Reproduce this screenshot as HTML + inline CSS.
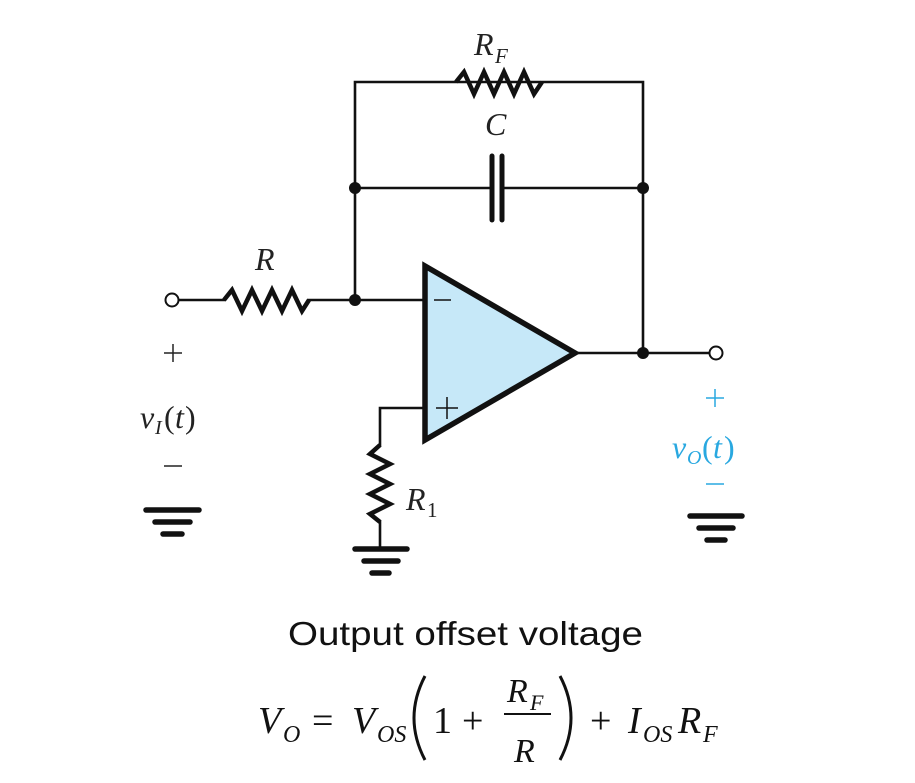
<!DOCTYPE html>
<html><head><meta charset="utf-8"><style>html,body{margin:0;padding:0;background:#fff}svg{display:block}</style></head>
<body>
<svg width="915" height="783" viewBox="0 0 915 783" xmlns="http://www.w3.org/2000/svg">
<g fill="none" stroke="#111" stroke-width="2.6">
<polyline points="355,300 355,82 458,82 643,82 643,353"/>
<line x1="355" y1="188" x2="490" y2="188"/>
<line x1="503" y1="188" x2="643" y2="188"/>
<polyline points="178,300 226,300"/><polyline points="307,300 425,300"/>
<line x1="577" y1="353" x2="710" y2="353"/>
<polyline points="425,408 380,408 380,447"/><polyline points="380,520 380,548"/>
</g>
<g fill="none" stroke="#111" stroke-width="4.5" stroke-linejoin="miter">
<polyline points="456,82 464,72 474,94 484,72 494,94 504,72 514,94 524,72 534,94 542,82"/>
<polyline points="224,300 232,290 242,311 252,290 262,311 272,290 282,311 292,290 302,311 309,300"/>
<polyline points="380,445 370,454 390,464 370,474 390,484 370,494 390,504 370,514 380,522"/>
</g>
<g stroke="#111" stroke-width="5" stroke-linecap="round">
<line x1="492" y1="156" x2="492" y2="220"/><line x1="502" y1="156" x2="502" y2="220"/>
</g>
<polygon points="425,266 425,440 575,353" fill="#c6e8f8" stroke="#111" stroke-width="5.5" stroke-linejoin="miter"/>
<g stroke="#111" stroke-width="1.5"><line x1="434" y1="300" x2="451" y2="300"/><line x1="436" y1="408" x2="458" y2="408"/><line x1="447" y1="397" x2="447" y2="419"/></g>
<g fill="#111"><circle cx="355" cy="188" r="6"/><circle cx="643" cy="188" r="6"/><circle cx="355" cy="300" r="6"/><circle cx="643" cy="353" r="6"/></g>
<g fill="#fff" stroke="#111" stroke-width="2"><circle cx="172" cy="300" r="6.5"/><circle cx="716" cy="353" r="6.5"/></g>
<g stroke="#111" stroke-width="5.5" stroke-linecap="round">
<line x1="146" y1="510" x2="199" y2="510"/><line x1="155" y1="522" x2="190" y2="522"/><line x1="163" y1="534" x2="182" y2="534"/>
<line x1="690" y1="516" x2="742" y2="516"/><line x1="699" y1="528" x2="733" y2="528"/><line x1="707" y1="540" x2="725" y2="540"/>
<line x1="355" y1="549" x2="407" y2="549"/><line x1="364" y1="561" x2="398" y2="561"/><line x1="372" y1="573" x2="389" y2="573"/>
</g>
<g font-family="Liberation Serif, serif" font-style="italic" fill="#222">
<text x="474" y="55" font-size="32">R</text><text x="495" y="63" font-size="21">F</text>
<text x="485" y="135" font-size="32">C</text>
<text x="255" y="270" font-size="32">R</text>
<text x="406" y="510" font-size="32">R</text><text x="427" y="517" font-size="21" font-style="normal">1</text>
<text x="140" y="428" font-size="32">v</text><text x="155" y="434" font-size="20">I</text><text x="164" y="428" font-size="32" font-style="normal">(</text><text x="175" y="428" font-size="32">t</text><text x="185" y="428" font-size="32" font-style="normal">)</text>
</g>
<g font-family="Liberation Serif, serif" font-style="italic" fill="#29a8e0">
<text x="672" y="458" font-size="32">v</text><text x="687" y="464" font-size="20">O</text><text x="702" y="458" font-size="32" font-style="normal">(</text><text x="713" y="458" font-size="32">t</text><text x="724" y="458" font-size="32" font-style="normal">)</text>
</g>
<g stroke="#222" stroke-width="1.5"><line x1="164" y1="353" x2="182" y2="353"/><line x1="173" y1="344" x2="173" y2="362"/><line x1="164" y1="466" x2="182" y2="466"/></g>
<g stroke="#29a8e0" stroke-width="1.5"><line x1="706" y1="398" x2="724" y2="398"/><line x1="715" y1="389" x2="715" y2="407"/><line x1="706" y1="484" x2="724" y2="484"/></g>
<text x="288" y="645" font-family="Liberation Sans, sans-serif" font-size="33" textLength="355" lengthAdjust="spacingAndGlyphs" fill="#111">Output offset voltage</text>
<g font-family="Liberation Serif, serif" fill="#111">
<text x="258" y="733" font-size="38" font-style="italic">V</text><text x="283" y="742" font-size="24" font-style="italic">O</text>
<text x="312" y="733" font-size="38">=</text>
<text x="352" y="733" font-size="38" font-style="italic">V</text><text x="377" y="742" font-size="24" font-style="italic">OS</text>
<path d="M425,676 Q403,718 425,760" fill="none" stroke="#111" stroke-width="3"/>
<text x="433" y="733" font-size="38">1</text>
<text x="462" y="733" font-size="38">+</text>
<text x="507" y="702" font-size="34" font-style="italic">R</text><text x="530" y="710" font-size="22" font-style="italic">F</text>
<line x1="504" y1="714" x2="551" y2="714" stroke="#111" stroke-width="2"/>
<text x="514" y="762" font-size="34" font-style="italic">R</text>
<path d="M560,676 Q582,718 560,760" fill="none" stroke="#111" stroke-width="3"/>
<text x="590" y="733" font-size="38">+</text>
<text x="628" y="733" font-size="38" font-style="italic">I</text><text x="643" y="742" font-size="24" font-style="italic">OS</text>
<text x="678" y="733" font-size="38" font-style="italic">R</text><text x="703" y="742" font-size="24" font-style="italic">F</text>
</g>
</svg>
</body></html>
